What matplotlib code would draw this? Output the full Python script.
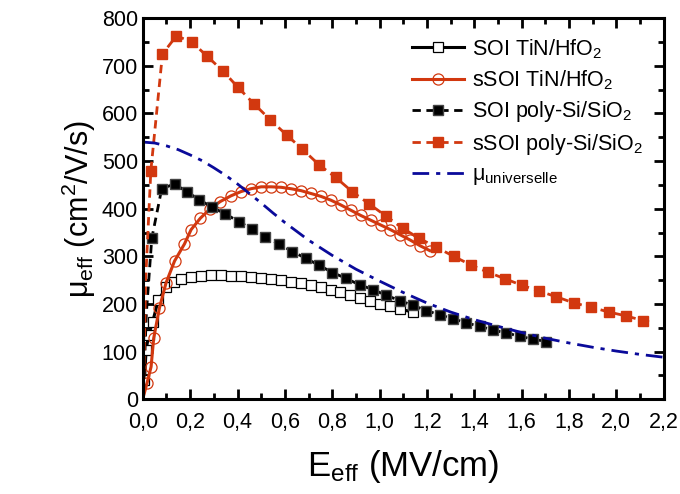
import matplotlib
matplotlib.use("Agg")
import matplotlib.pyplot as plt
from matplotlib.ticker import MultipleLocator, FuncFormatter

plt.rcParams['font.family'] = ['Liberation Sans', 'DejaVu Sans']
plt.rcParams['mathtext.fontset'] = 'custom'
plt.rcParams['mathtext.rm'] = 'Liberation Sans'
plt.rcParams['mathtext.it'] = 'Liberation Sans'

RED = '#d2380f'
BLUE = '#0a0a9a'

# SOI TiN/HfO2 (open squares, solid)
e_soi_tin = [0.003, 0.007, 0.014, 0.025, 0.042, 0.065, 0.100, 0.130, 0.162, 0.204,
             0.246, 0.289, 0.331, 0.373, 0.415, 0.457, 0.499, 0.541, 0.583, 0.625,
             0.667, 0.709, 0.751, 0.793, 0.835, 0.877, 0.919, 0.961, 1.003, 1.045,
             1.087, 1.140]
mu_soi_tin = [10, 40, 104, 135, 163, 208, 235, 246, 252, 256,
              259, 260, 260, 259, 258, 256, 254, 252, 250, 247,
              244, 240, 235, 230, 225, 219, 213, 206, 200, 195,
              189, 183]

# sSOI TiN/HfO2 (open circles, solid)
e_ssoi_tin = [0.005, 0.018, 0.035, 0.046, 0.070, 0.098, 0.134, 0.176, 0.204, 0.243,
              0.285, 0.327, 0.372, 0.415, 0.457, 0.500, 0.542, 0.584, 0.626, 0.668,
              0.710, 0.752, 0.794, 0.836, 0.878, 0.920, 0.962, 1.004, 1.046, 1.088,
              1.130, 1.172, 1.212]
mu_ssoi_tin = [10, 34, 68, 128, 191, 244, 290, 326, 356, 380,
               400, 415, 427, 436, 442, 446, 446, 445, 442, 438,
               432, 426, 418, 408, 397, 386, 376, 366, 356, 345,
               334, 322, 312]

# SOI poly-Si/SiO2 (filled squares, dashed)
e_soi_poly = [0.003, 0.015, 0.038, 0.080, 0.134, 0.185, 0.238, 0.294, 0.349, 0.405,
              0.462, 0.518, 0.576, 0.632, 0.688, 0.745, 0.801, 0.857, 0.916, 0.973,
              1.029, 1.085, 1.141, 1.198, 1.254, 1.310, 1.367, 1.423, 1.479, 1.536,
              1.592, 1.648, 1.705]
mu_soi_poly = [15, 180, 338, 442, 452, 436, 419, 403, 389, 373,
               357, 340, 326, 310, 296, 281, 266, 254, 240, 230,
               218, 207, 197, 186, 177, 169, 160, 153, 145, 139,
               132, 126, 121]

# sSOI poly-Si/SiO2 (filled squares, dashed)
e_ssoi_poly = [0.003, 0.012, 0.034, 0.083, 0.142, 0.208, 0.272, 0.337, 0.402, 0.470,
               0.538, 0.607, 0.674, 0.745, 0.814, 0.884, 0.956, 1.026, 1.097, 1.167,
               1.240, 1.313, 1.385, 1.456, 1.529, 1.602, 1.674, 1.747, 1.821, 1.895,
               1.968, 2.040, 2.113, 2.150]
mu_ssoi_poly = [15, 250, 480, 725, 763, 750, 720, 690, 655, 620,
                587, 555, 525, 492, 466, 436, 410, 385, 359, 338,
                319, 300, 282, 267, 253, 239, 227, 215, 202, 193,
                183, 175, 165, 161]

# universal mobility (dash-dot)
e_univ = [0.0, 0.05, 0.1, 0.15, 0.2, 0.25, 0.3, 0.35, 0.4, 0.45, 0.5, 0.55,
          0.6, 0.7, 0.8, 0.9, 1.0, 1.1, 1.2, 1.3, 1.4, 1.5, 1.6, 1.7, 1.8,
          1.9, 2.0, 2.1, 2.2]
mu_univ = [540, 538, 532, 524, 513, 501, 486, 470, 452, 432, 412, 391,
           371, 334, 302, 273, 248, 224, 202, 183, 167, 153, 140, 128, 118,
           109, 101, 94, 88]

fig = plt.figure(figsize=(6.8, 4.94), dpi=100)
ax = fig.add_axes([0.210, 0.192, 0.766, 0.771])

ax.plot(e_soi_tin, mu_soi_tin, '-', color='black', lw=2.2, marker='s', ms=6.5,
        mfc='white', mec='black', mew=0.9, markevery=list(range(1, len(e_soi_tin))),
        label='SOI TiN/HfO$_\\mathregular{2}$')
ax.plot(e_ssoi_tin, mu_ssoi_tin, '-', color=RED, lw=2.2, marker='o', ms=8,
        mfc='none', mec=RED, mew=0.9, markevery=list(range(1, len(e_ssoi_tin))),
        label='sSOI TiN/HfO$_\\mathregular{2}$')
ax.plot(e_soi_poly, mu_soi_poly, '--', color='black', lw=2, dashes=(3, 2), marker='s',
        ms=7.5, mfc='black', mec='#444444', markevery=list(range(2, len(e_soi_poly))),
        label='SOI poly-Si/SiO$_\\mathregular{2}$')
ax.plot(e_ssoi_poly, mu_ssoi_poly, '--', color=RED, lw=2, dashes=(3, 2), marker='s',
        ms=7.5, mfc=RED, mec=RED, markevery=list(range(2, len(e_ssoi_poly) - 1)),
        label='sSOI poly-Si/SiO$_\\mathregular{2}$')
ax.plot(e_univ, mu_univ, color=BLUE, lw=2, dashes=(6, 2.5, 1.5, 2.5),
        label='μ$_\\mathregular{universelle}$')

ax.set_xlim(0, 2.2)
ax.set_ylim(0, 800)
ax.xaxis.set_major_locator(MultipleLocator(0.2))
ax.xaxis.set_minor_locator(MultipleLocator(0.1))
ax.yaxis.set_major_locator(MultipleLocator(100))
ax.yaxis.set_minor_locator(MultipleLocator(50))
ax.xaxis.set_major_formatter(FuncFormatter(lambda v, p: f"{v:.1f}".replace('.', ',')))
ax.tick_params(which='both', direction='in', top=True, right=True, width=2, labelsize=15.5)
ax.tick_params(which='major', length=7)
ax.tick_params(which='minor', length=4)
ax.tick_params(axis='x', pad=9)
for s in ax.spines.values():
    s.set_linewidth(2.2)

ax.set_xlabel('E$_\\mathregular{eff}$ (MV/cm)', fontsize=25, labelpad=11)
ax.set_ylabel('μ$_\\mathregular{eff}$ (cm$^\\mathregular{2}$/V/s)', fontsize=22, labelpad=3)

ax.legend(loc='upper right', bbox_to_anchor=(0.985, 0.985), frameon=False, fontsize=15.5,
          numpoints=1, handlelength=2.45, handletextpad=0.35, labelspacing=0.35,
          borderaxespad=0.2)

fig.savefig('out.png', dpi=100)
